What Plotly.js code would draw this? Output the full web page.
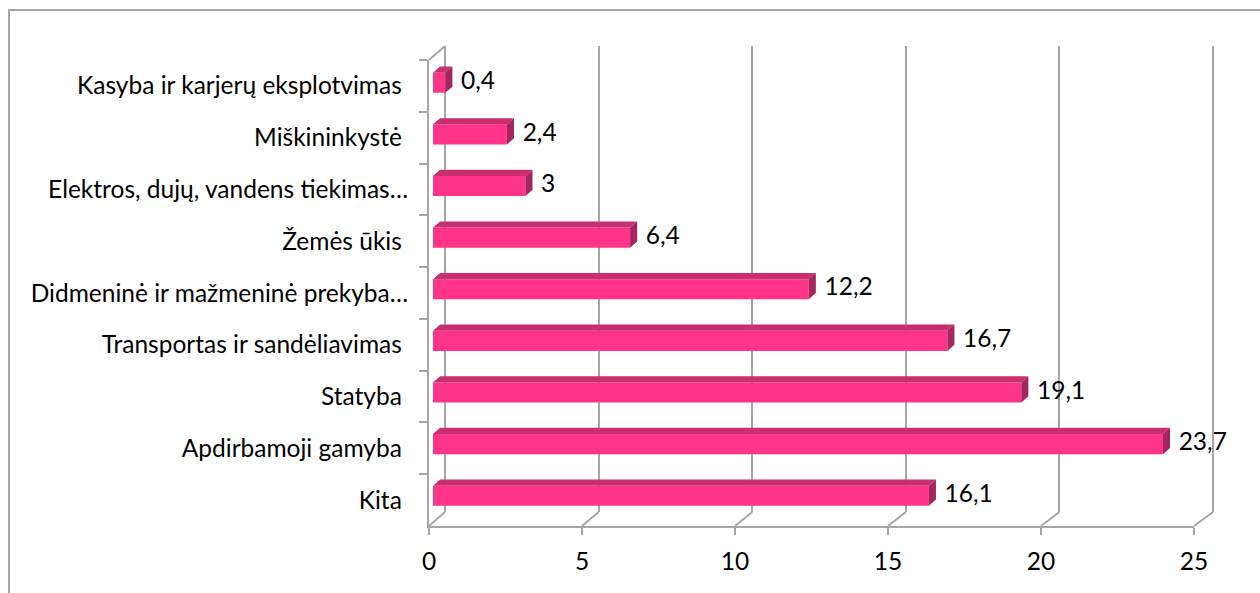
<!DOCTYPE html>
<html>
<head>
<meta charset="utf-8">
<script src="https://cdn.plot.ly/plotly-3.0.1.min.js"></script>
<style>
  html, body { margin: 0; padding: 0; background: #fff; }
  #chart { width: 1260px; height: 593px; }
</style>
</head>
<body>
<div id="chart"></div>
<script>
// data, top to bottom
var categories = [
    'Kasyba ir karjerų eksplotvimas ',
    'Miškininkystė ',
    'Elektros, dujų, vandens tiekimas…',
    'Žemės ūkis ',
    'Didmeninė ir mažmeninė prekyba…',
    'Transportas ir sandėliavimas ',
    'Statyba ',
    'Apdirbamoji gamyba ',
    'Kita '
];
var values = [0.4, 2.4, 3, 6.4, 12.2, 16.7, 19.1, 23.7, 16.1];
var xTicks = [0, 5, 10, 15, 20, 25];

var W = 1260, H = 593;
var FONT = 'Lato, "Open Sans", sans-serif';
var FSIZE = 24.5;
var GRID = '#A6A6A6';

// pixel -> paper helpers
function px(x) { return x / W; }
function py(y) { return 1 - y / H; }

// 3d box: front plane, back wall, and the bars in the middle
var front = { x0: 429, x1: 1194, y0: 60, y1: 526 };
var back = { x0: 445, x1: 1213, y0: 46, y1: 512 };
var bars = { x0: 433, x1: 1203, y0: 57, y1: 521.5 };

function frontX(v) { return front.x0 + v * (front.x1 - front.x0) / 25; }
function backX(v) { return back.x0 + v * (back.x1 - back.x0) / 25; }

// bar depth, in data units of the bar axes
var barWidth = 0.39;
var dx = 0.23;
var dy = 0.12;
var labelGap = 0.28;

var idx = values.map(function (v, i) { return i; });

// top and side faces of the bars
var topX = [], topY = [], sideX = [], sideY = [];
values.forEach(function (v, i) {
    var t = i - barWidth / 2, b = i + barWidth / 2;
    topX.push(0, v, v + dx, dx, 0, null);
    topY.push(t, t, t - dy, t - dy, t, null);
    sideX.push(v, v + dx, v + dx, v, v, null);
    sideY.push(t, t - dy, b - dy, b, t, null);
});

var traceBars = {
    type: 'bar', orientation: 'h',
    x: values, y: idx, width: barWidth,
    marker: { color: '#FF3388', line: { width: 0 } },
    xaxis: 'x2', yaxis: 'y2', hoverinfo: 'skip'
};
var traceTop = {
    type: 'scatter', mode: 'lines', x: topX, y: topY,
    fill: 'toself', fillcolor: '#C92F70', line: { width: 0 },
    xaxis: 'x2', yaxis: 'y2', hoverinfo: 'skip'
};
var traceSide = {
    type: 'scatter', mode: 'lines', x: sideX, y: sideY,
    fill: 'toself', fillcolor: '#A3265F', line: { width: 0 },
    xaxis: 'x2', yaxis: 'y2', hoverinfo: 'skip'
};
var traceLabels = {
    type: 'scatter', mode: 'text',
    x: values.map(function (v) { return v + dx + labelGap; }),
    y: idx,
    text: values.map(function (v) { return String(v).replace('.', ','); }),
    textposition: 'middle right',
    textfont: { family: FONT, size: FSIZE, color: '#000' },
    cliponaxis: false,
    xaxis: 'x2', yaxis: 'y2', hoverinfo: 'skip'
};
// invisible trace so the front category axis has its categories
var traceCats = {
    type: 'scatter', mode: 'markers',
    x: categories.map(function () { return 0; }), y: categories,
    marker: { opacity: 0 },
    xaxis: 'x3', yaxis: 'y3', hoverinfo: 'skip'
};
// back wall grid
var traceBack = {
    type: 'scatter', mode: 'markers', x: [0], y: [0],
    marker: { opacity: 0 }, xaxis: 'x', yaxis: 'y', hoverinfo: 'skip'
};

// floor and wall diagonals from front plane to back wall
var shapes = [];
xTicks.forEach(function (v) {
    shapes.push({
        type: 'line', xref: 'paper', yref: 'paper', layer: 'below',
        x0: px(frontX(v)), y0: py(front.y1), x1: px(backX(v)), y1: py(back.y1),
        line: { color: GRID, width: 2 }
    });
});
shapes.push({
    type: 'line', xref: 'paper', yref: 'paper', layer: 'below',
    x0: px(front.x0), y0: py(front.y0), x1: px(back.x0), y1: py(back.y0),
    line: { color: GRID, width: 2 }
});
// outer frame
shapes.push({
    type: 'rect', xref: 'paper', yref: 'paper', layer: 'below',
    x0: px(9), y0: py(10), x1: px(1275), y1: py(610),
    line: { color: GRID, width: 2 }
});

var pad = 0.5 * (back.x1 - back.x0) / 25;

var layout = {
    width: W, height: H,
    margin: { l: 0, r: 0, t: 0, b: 0 },
    paper_bgcolor: '#fff', plot_bgcolor: 'rgba(0,0,0,0)',
    showlegend: false,
    font: { family: FONT, size: FSIZE, color: '#000' },
    // back wall
    xaxis: {
        domain: [px(back.x0 - pad), px(back.x1 + pad)], range: [-0.5, 25.5],
        showgrid: true, gridcolor: GRID, gridwidth: 2, dtick: 5, tick0: 0,
        zeroline: false, showticklabels: false, ticks: '', showline: false,
        anchor: 'y', fixedrange: true
    },
    yaxis: {
        domain: [py(back.y1), py(back.y0)], range: [0, 1],
        showgrid: false, zeroline: false, showticklabels: false, ticks: '',
        anchor: 'x', fixedrange: true
    },
    // bars
    xaxis2: {
        domain: [px(bars.x0), px(bars.x1)], range: [0, 25],
        visible: false, anchor: 'y2', fixedrange: true
    },
    yaxis2: {
        domain: [py(bars.y1), py(bars.y0)], range: [8.5, -0.5],
        visible: false, anchor: 'x2', fixedrange: true
    },
    // front plane: axis lines, ticks and labels
    xaxis3: {
        domain: [px(front.x0), px(front.x1)], range: [0, 25],
        tickvals: xTicks, ticktext: xTicks.map(String),
        showgrid: false, zeroline: false,
        showline: true, linecolor: GRID, linewidth: 2,
        ticks: 'outside', ticklen: 7, tickwidth: 2, tickcolor: GRID,
        ticklabelstandoff: 6,
        tickfont: { family: FONT, size: FSIZE, color: '#000' },
        anchor: 'y3', fixedrange: true
    },
    yaxis3: {
        domain: [py(front.y1), py(front.y0)],
        type: 'category', categoryorder: 'array', categoryarray: categories,
        range: [8.5, -0.5],
        showgrid: false, zeroline: false,
        showline: true, linecolor: GRID, linewidth: 2,
        ticks: 'outside', tickson: 'boundaries', ticklen: 8, tickwidth: 2, tickcolor: GRID,
        ticklabelstandoff: 14,
        tickfont: { family: FONT, size: FSIZE, color: '#000' },
        anchor: 'x3', fixedrange: true
    },
    shapes: shapes
};

Plotly.newPlot('chart', [traceBack, traceBars, traceTop, traceSide, traceLabels, traceCats], layout, { displayModeBar: false, staticPlot: true });
</script>
</body>
</html>
